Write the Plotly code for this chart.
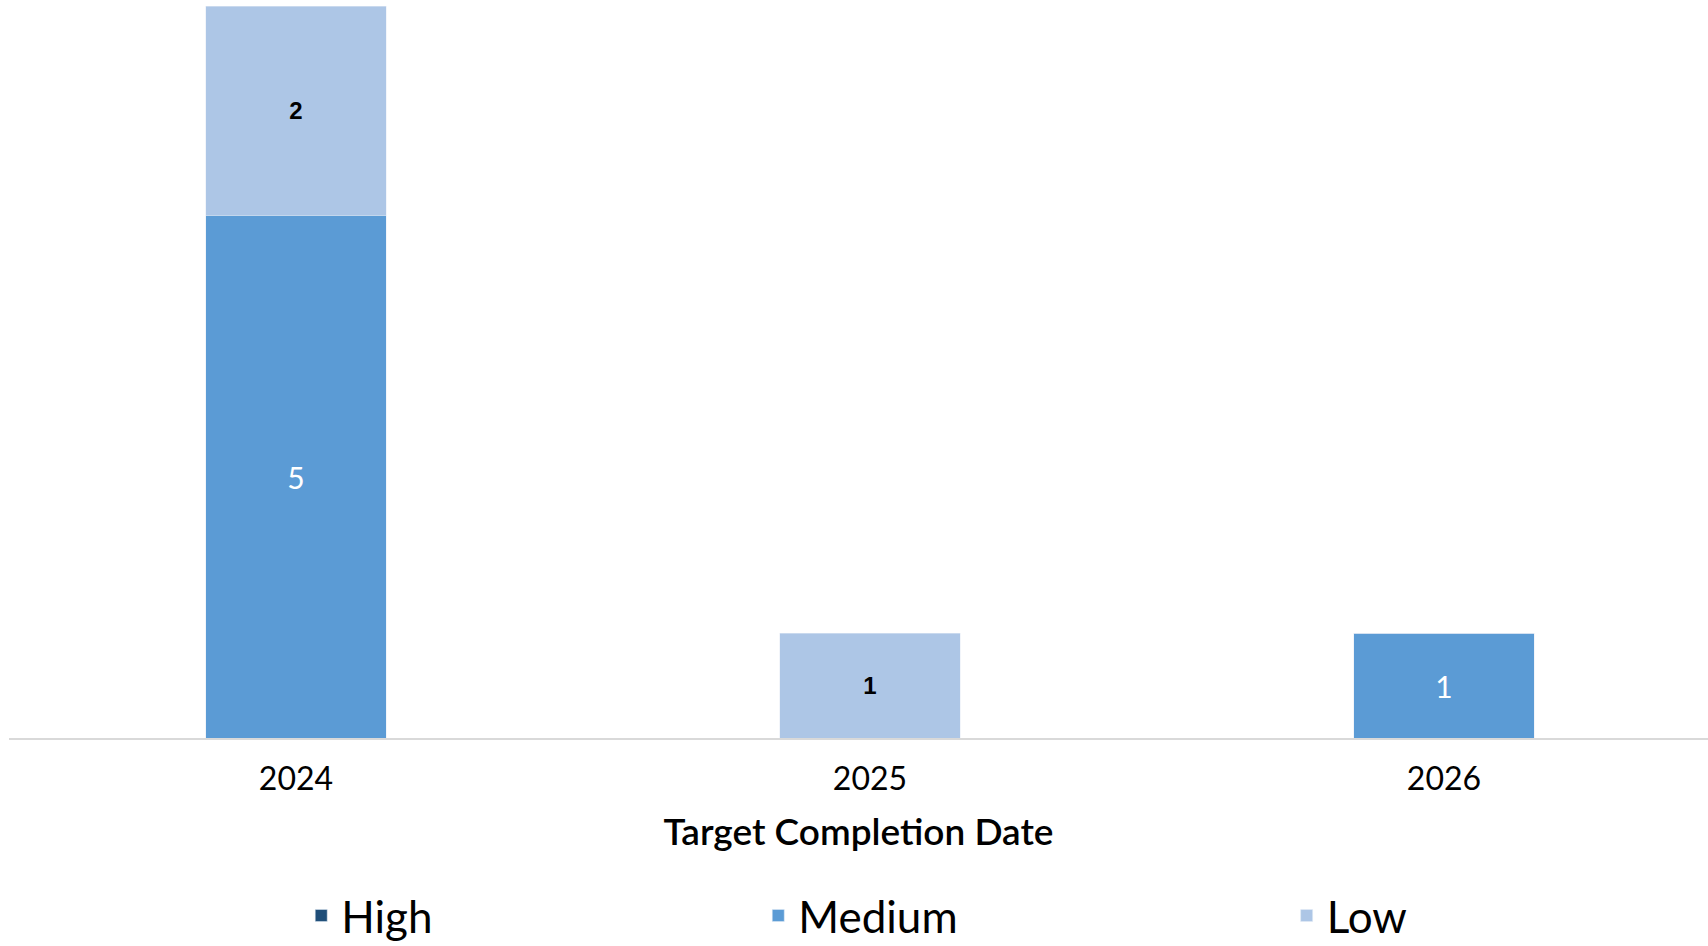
import plotly.graph_objects as go

categories = ["2024", "2025", "2026"]
high = [0, 0, 0]
medium = [5, 0, 1]
low = [2, 1, 0]

colors = {"High": "#1F4E79", "Medium": "#5B9BD5", "Low": "#ADC6E6"}


def labels(vals):
    return [str(v) if v else "" for v in vals]


fig = go.Figure()
fig.add_trace(go.Bar(
    name="High", x=categories, y=high, marker_color=colors["High"],
    text=labels(high), textposition="inside", insidetextanchor="middle",
    textfont=dict(color="white", size=30, family="Lato"), legend="legend",
    showlegend=True,
))
fig.add_trace(go.Bar(
    name="Medium", x=categories, y=medium, marker_color=colors["Medium"],
    text=labels(medium), textposition="inside", insidetextanchor="middle",
    textfont=dict(color="white", size=30, family="Lato"), legend="legend2",
    showlegend=True,
))
fig.add_trace(go.Bar(
    name="Low", x=categories, y=low, marker_color=colors["Low"],
    text=labels(low), textposition="inside", insidetextanchor="middle",
    textfont=dict(color="black", size=24, family="Liberation Sans", weight="bold"),
    legend="legend3", showlegend=True,
))

legend_common = dict(
    orientation="h", yanchor="middle", xanchor="left", y=-0.243,
    font=dict(size=44, family="Lato", color="black"),
    bgcolor="rgba(0,0,0,0)", itemclick=False, itemdoubleclick=False,
)

fig.update_layout(
    width=1708, height=946,
    barmode="stack", bargap=0.686,
    showlegend=True,
    plot_bgcolor="white", paper_bgcolor="white",
    margin=dict(l=9, r=0, t=6, b=208, autoexpand=False),
    font=dict(family="Lato", color="black"),
    legend=dict(x=0.172, **legend_common),
    legend2=dict(x=0.441, **legend_common),
    legend3=dict(x=0.752, **legend_common),
)
fig.update_xaxes(
    range=[-0.5, 2.46], showline=True, linecolor="#D9D9D9", linewidth=2,
    ticks="", tickfont=dict(size=32, family="Lato", color="black"),
    ticklabelstandoff=12,
    title=dict(text="Target Completion Date", standoff=23,
               font=dict(size=37, family="Lato", color="black", weight=600)),
    showgrid=False, fixedrange=True,
)
fig.update_yaxes(
    range=[0, 7], visible=False, showgrid=False, zeroline=False, fixedrange=True,
)

fig.write_html("out.html")
